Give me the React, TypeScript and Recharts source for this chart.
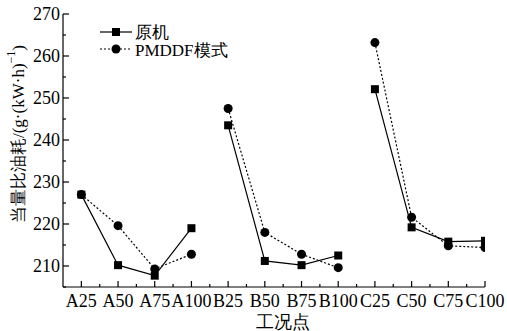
import { LineChart, Line, XAxis, YAxis } from "recharts";

const categories = ["A25", "A50", "A75", "A100", "B25", "B50", "B75", "B100", "C25", "C50", "C75", "C100"];
const original = [227.0, 210.2, 207.7, 219.0, 243.5, 211.2, 210.2, 212.5, 252.1, 219.2, 215.8, 216.0];
const pmddf = [227.0, 219.6, 209.3, 212.8, 247.5, 218.0, 212.8, 209.6, 263.2, 221.6, 214.8, 214.4];
const groups = ["A", "B", "C"];
const yTicks = [205, 210, 215, 220, 225, 230, 235, 240, 245, 250, 255, 260, 265, 270];

const FONT = "'Liberation Serif', 'Times New Roman', serif";

const data = categories.map((c, i) => {
  const row: Record<string, number | string | null> = { x: i + 1, name: c };
  groups.forEach((g) => {
    row["o_" + g] = c.startsWith(g) ? original[i] : null;
    row["p_" + g] = c.startsWith(g) ? pmddf[i] : null;
  });
  return row;
});

const xTicks: number[] = [];
for (let v = 1; v <= 12; v += 0.5) xTicks.push(v);

const XTick = (props: any) => {
  const { x, y, payload } = props;
  const major = Number.isInteger(payload.value);
  return (
    <g>
      <line x1={x} x2={x} y1={y} y2={y - (major ? 6 : 3)} stroke="#000" strokeWidth={1.2} />
      {major && (
        <text x={x} y={y + 20} textAnchor="middle" fontSize={18} style={{ fontFamily: FONT }} fill="#000">
          {categories[payload.value - 1]}
        </text>
      )}
    </g>
  );
};

const YTick = (props: any) => {
  const { x, y, payload } = props;
  const major = payload.value % 10 === 0;
  return (
    <g>
      <line x1={x} x2={x + (major ? 6 : 3)} y1={y} y2={y} stroke="#000" strokeWidth={1.2} />
      {major && (
        <text x={x - 3} y={y + 6} textAnchor="end" fontSize={18} style={{ fontFamily: FONT }} fill="#000">
          {payload.value}
        </text>
      )}
    </g>
  );
};

const SquareDot = (props: any) => {
  const { cx, cy } = props;
  if (cx == null || cy == null) return null;
  return <rect x={cx - 4} y={cy - 4} width={8} height={8} fill="#000" />;
};

const CircleDot = (props: any) => {
  const { cx, cy } = props;
  if (cx == null || cy == null) return null;
  return <circle cx={cx} cy={cy} r={4.5} fill="#000" />;
};

const LegendBox = () => (
  <svg width={150} height={42} style={{ position: "absolute", left: 100, top: 22 }}>
    <line x1={0} x2={32} y1={10} y2={10} stroke="#000" strokeWidth={1.2} />
    <rect x={12} y={6} width={8} height={8} fill="#000" />
    <text x={35} y={16} fontSize={17} style={{ fontFamily: FONT }}>原机</text>
    <line x1={0} x2={32} y1={27} y2={27} stroke="#000" strokeWidth={1.2} strokeDasharray="2 2" />
    <circle cx={16} cy={27} r={4.5} fill="#000" />
    <text x={35} y={34} fontSize={17} style={{ fontFamily: FONT }}>PMDDF模式</text>
  </svg>
);

const YLabel = () => (
  <text
    x={18}
    y={134}
    transform="rotate(-90 18 134)"
    textAnchor="middle"
    dominantBaseline="central"
    fontSize={17}
    style={{ fontFamily: FONT }}
    fill="#000"
  >
    当量比油耗/(g·(kW·h)
    <tspan fontSize={12} dy={-7}>−1</tspan>
    <tspan dy={7}>)</tspan>
  </text>
);

export default function App() {
  return (
    <div style={{ position: "relative", width: 507, height: 331 }}>
      <style>{`body{margin:0}`}</style>
      <LineChart width={507} height={331} data={data} margin={{ top: 14, right: 22, bottom: 14, left: 0 }}>
        <XAxis
          dataKey="x"
          type="number"
          domain={[0.5, 12]}
          ticks={xTicks}
          interval={0}
          height={30}
          tick={<XTick />}
          tickSize={0}
          tickMargin={0}
          tickLine={false}
          axisLine={{ stroke: "#000", strokeWidth: 1.2 }}
          allowDataOverflow
          label={{ value: "工况点", position: "insideBottom", dx: 9, dy: 16, fontSize: 18, fontFamily: FONT, fill: "#000" } as any}
        />
        <YAxis
          type="number"
          domain={[205, 270]}
          ticks={yTicks}
          interval={0}
          width={63}
          tick={<YTick />}
          tickSize={0}
          tickMargin={0}
          tickLine={false}
          axisLine={{ stroke: "#000", strokeWidth: 1.2 }}
          allowDataOverflow
          label={<YLabel />}
        />
        {groups.map((g) => (
          <Line
            key={"o_" + g}
            dataKey={"o_" + g}
            name="原机"
            stroke="#000"
            strokeWidth={1.2}
            dot={<SquareDot />}
            activeDot={false}
            connectNulls={false}
            isAnimationActive={false}
          />
        ))}
        {groups.map((g) => (
          <Line
            key={"p_" + g}
            dataKey={"p_" + g}
            name="PMDDF模式"
            stroke="#000"
            strokeWidth={1.2}
            strokeDasharray="2 2"
            dot={<CircleDot />}
            activeDot={false}
            connectNulls={false}
            isAnimationActive={false}
          />
        ))}
      </LineChart>
      <LegendBox />
    </div>
  );
}
